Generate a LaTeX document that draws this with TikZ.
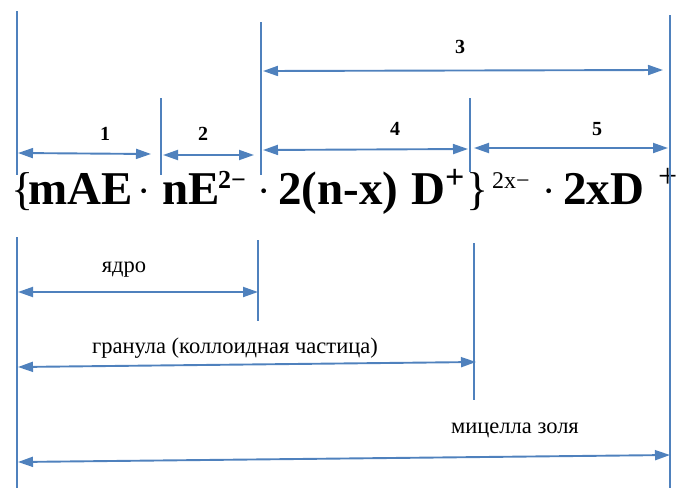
\documentclass[tikz,border=0pt]{standalone}
\usepackage{fontspec}
\setmainfont{Liberation Serif}
\usetikzlibrary{arrows.meta}
\definecolor{lineblue}{RGB}{79,129,189}
\tikzset{
  guide/.style={draw=lineblue, line width=1.5pt},
  dimline/.style={draw=lineblue, line width=1.9pt,
    {Triangle[length=15pt,width=10pt]}-{Triangle[length=15pt,width=10pt]}},
  big/.style={inner sep=0pt, anchor=base west, font=\fontsize{47}{50}\selectfont\bfseries},
  brace/.style={inner sep=0pt, anchor=base west, font=\fontsize{46}{50}\selectfont},
  dotc/.style={inner sep=0pt, anchor=base, font=\fontsize{40}{44}\selectfont},
  supb/.style={inner sep=0pt, anchor=base west, font=\fontsize{26}{28}\selectfont\bfseries},
  plusb/.style={inner sep=0pt, anchor=base west, font=\fontsize{34}{36}\selectfont\bfseries},
  supr/.style={inner sep=0pt, anchor=base west, font=\fontsize{24}{26}\selectfont},
  plusr/.style={inner sep=0pt, anchor=base west, font=\fontsize{34}{36}\selectfont},
  numlab/.style={inner sep=0pt, anchor=base, font=\fontsize{20}{22}\selectfont\bfseries},
  txtlab/.style={inner sep=0pt, anchor=base, font=\fontsize{22.5}{24}\selectfont},
}
\begin{document}
\begin{tikzpicture}[x=1pt,y=-1pt]
\useasboundingbox (0,0) rectangle (680,488);

% formula
\node[brace] (br1) at (11,204) {\{};
\node[big] (f1) at (28,204) {mAE};
\node[dotc] (d1) at (144,204) {·};
\node[big] (f2) at (162,204) {nE};
\node[supb] (s1) at (218,188) {2−};
\node[dotc] (d2) at (264,204) {·};
\node[big] (f3) at (278,204) {2(n-x)};
\node[big] (f4) at (411,204) {D};
\node[plusb] (s2) at (445,188) {+};
\node[brace] (br2) at (466,204) {\}};
\node[supr] (s3) at (492,188) {2x−};
\node[dotc] (d3) at (549,204) {·};
\node[big] (f5) at (563,204) {2xD};
\node[plusr] (s4) at (658,187) {+};

% guide line endpoints
\coordinate (A1) at (17,11);   \coordinate (A2) at (17,175);
\coordinate (A3) at (17,237);  \coordinate (A4) at (17,488);
\coordinate (B1) at (161,98);  \coordinate (B2) at (161,175);
\coordinate (C1) at (261,22);  \coordinate (C2) at (261,175);
\coordinate (C3) at (258,240); \coordinate (C4) at (258,321);
\coordinate (D1) at (470,98);  \coordinate (D2) at (470,172);
\coordinate (D3) at (474,243); \coordinate (D4) at (474,400);
\coordinate (E1) at (670,15);  \coordinate (E2) at (670,488);

\draw[guide] (A1) -- (A2);
\draw[guide] (A3) -- (A4);
\draw[guide] (B1) -- (B2);
\draw[guide] (C1) -- (C2);
\draw[guide] (C3) -- (C4);
\draw[guide] (D1) -- (D2);
\draw[guide] (D3) -- (D4);
\draw[guide] (E1) -- (E2);

% dimension arrows
\coordinate (a3l) at (263,71);  \coordinate (a3r) at (663,70);
\coordinate (a1l) at (18,153);  \coordinate (a1r) at (151,154);
\coordinate (a2l) at (163,155); \coordinate (a2r) at (254,155);
\coordinate (a4l) at (263,150); \coordinate (a4r) at (468,149);
\coordinate (a5l) at (474,148); \coordinate (a5r) at (668,148);
\coordinate (ayl) at (18,292);  \coordinate (ayr) at (258,292);
\coordinate (agl) at (18,367);  \coordinate (agr) at (476,362);
\coordinate (aml) at (18,462);  \coordinate (amr) at (670,455);

\draw[dimline] (a3l) -- (a3r);
\draw[dimline] (a1l) -- (a1r);
\draw[dimline] (a2l) -- (a2r);
\draw[dimline] (a4l) -- (a4r);
\draw[dimline] (a5l) -- (a5r);
\draw[dimline] (ayl) -- (ayr);
\draw[dimline] (agl) -- (agr);
\draw[dimline] (aml) -- (amr);

% labels
\node[numlab] (l3) at (460,53) {3};
\node[numlab] (l1) at (105,140) {1};
\node[numlab] (l2) at (203,140) {2};
\node[numlab] (l4) at (395,135) {4};
\node[numlab] (l5) at (597,135) {5};
\node[txtlab] (ly) at (124,272) {ядро};
\node[txtlab] (lg) at (235,353) {гранула (коллоидная частица)};
\node[txtlab] (lm) at (515,433) {мицелла золя};
\end{tikzpicture}
\end{document}
